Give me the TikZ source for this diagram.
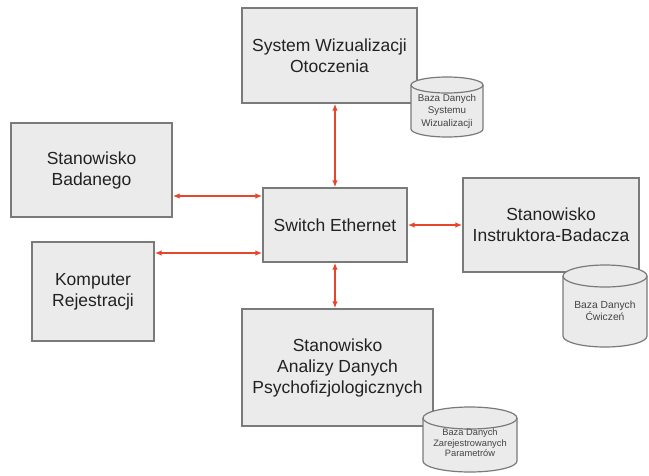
\documentclass[tikz,border=0pt]{standalone}
\usepackage{fontspec}
\setmainfont{Liberation Sans}
\usetikzlibrary{arrows.meta}
\definecolor{boxfill}{HTML}{EBEBEB}
\definecolor{boxline}{HTML}{7A7A7A}
\definecolor{linkred}{HTML}{E8462C}
\definecolor{ink}{HTML}{222222}
\tikzset{
  unit/.style={draw=boxline, fill=boxfill, line width=1.4pt, text=ink,
    align=center, inner sep=0pt, font=\fontsize{17.5}{21}\selectfont},
  dbtext/.style={text=ink!85, align=center, inner sep=0pt},
  dbbody/.style={draw=boxline, fill=boxfill, line width=1.2pt},
  dbline/.style={draw=boxline, line width=1.2pt},
  link/.style={draw=linkred, line width=1.8pt,
    {Latex[length=7pt,width=5.5pt]}-{Latex[length=7pt,width=5.5pt]}}
}
% database cylinder: centre x, top y, bottom y, x radius, y radius
\newcommand\dbcyl[5]{%
  \path[dbbody] (#1-#4,#2+#5) -- (#1-#4,#3-#5)
    arc[start angle=180,end angle=360,x radius=#4pt,y radius=#5pt]
    -- (#1+#4,#2+#5)
    arc[start angle=0,end angle=180,x radius=#4pt,y radius=#5pt] -- cycle;
  \draw[dbline] (#1-#4,#2+#5)
    arc[start angle=180,end angle=360,x radius=#4pt,y radius=#5pt];
}
\begin{document}
\begin{tikzpicture}[x=1pt,y=-1pt]
\useasboundingbox (0,0) rectangle (649,475);
\fill[white] (0,0) rectangle (649,475);

% workstations and switch
\node[unit, minimum width=175pt, minimum height=95pt] (sys) at (329.5,55.5)
  {System Wizualizacji\\Otoczenia};
\node[unit, minimum width=161pt, minimum height=94pt] (bad) at (91.5,170)
  {Stanowisko\\Badanego};
\node[unit, minimum width=122pt, minimum height=99pt] (kom) at (93,291.5)
  {Komputer\\Rejestracji};
\node[unit, minimum width=144pt, minimum height=74pt] (sw) at (335,225)
  {Switch Ethernet};
\node[unit, minimum width=176pt, minimum height=94pt] (ins) at (551,225)
  {Stanowisko\\Instruktora-Badacza};
\node[unit, minimum width=191pt, minimum height=117pt] (ana) at (337.5,367.5)
  {Stanowisko\\Analizy Danych\\Psychofizjologicznych};

% databases
\dbcyl{447}{77}{137}{36}{8}
\node[dbtext, font=\fontsize{9.8}{12.5}\selectfont] (db1) at (447,111)
  {Baza Danych\\Systemu\\Wizualizacji};
\dbcyl{605}{265}{347}{42}{11}
\node[dbtext, font=\fontsize{10.3}{12.5}\selectfont] (db2) at (605,311)
  {Baza Danych\\Ćwiczeń};
\dbcyl{470}{407}{472}{47}{11}
\node[dbtext, font=\fontsize{9.3}{10.5}\selectfont] (db3) at (470,443)
  {Baza Danych\\Zarejestrowanych\\Parametrów};

% network links
\coordinate (swA) at ([yshift=29pt]sw.west);
\coordinate (swB) at ([yshift=-28pt]sw.west);
\draw[link] (sw.north) -- (sw.north |- sys.south);
\draw[link] (sw.south) -- (sw.south |- ana.north);
\draw[link] (sw.east) -- (ins.west);
\draw[link] (swA) -- (bad.east |- swA);
\draw[link] (swB) -- (kom.east |- swB);
\end{tikzpicture}
\end{document}
